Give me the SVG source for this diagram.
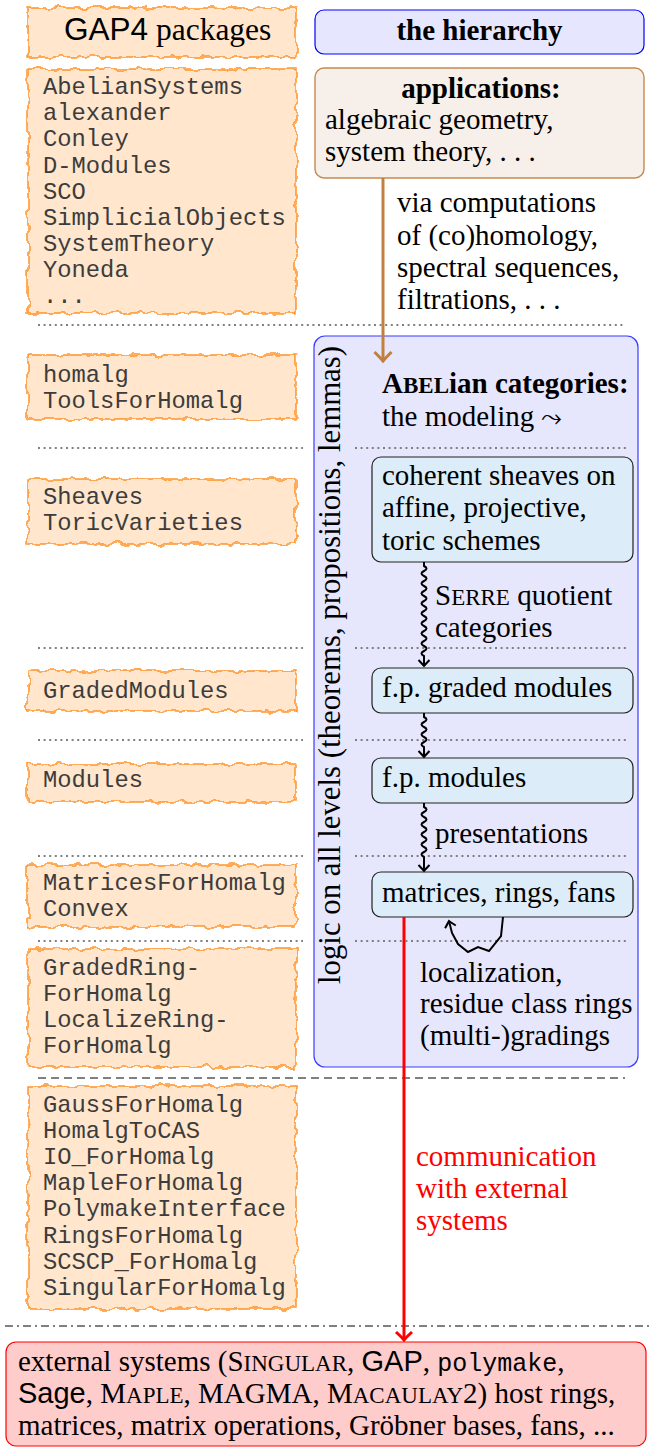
<svg xmlns="http://www.w3.org/2000/svg" width="649" height="1448" viewBox="0 0 649 1448">
<style>
.pkg{fill:#ffe6cc;stroke:#ff8c1a;stroke-width:1.4}
.mono{font-family:"Liberation Mono",monospace;font-size:23.8px;fill:#3c3c3c}
.serif{font-family:"Liberation Serif",serif;font-size:29px;fill:#000}
.bold{font-weight:bold}
.sans{font-family:"Liberation Sans",sans-serif}
.inner{fill:#dcecf8;stroke:#222;stroke-width:1.2}
.dot{stroke:#808080;stroke-width:2;stroke-dasharray:2 3.6;fill:none}
.wave{fill:none;stroke:#000;stroke-width:2}
</style>
<defs>
<filter id="rough" x="-5%" y="-25%" width="110%" height="150%">
<feTurbulence type="fractalNoise" baseFrequency="0.09" numOctaves="2" seed="7" result="n"/>
<feDisplacementMap in="SourceGraphic" in2="n" scale="8" xChannelSelector="R" yChannelSelector="G"/>
</filter>
<marker id="ahK" viewBox="-8 -8 10 16" markerWidth="10" markerHeight="16" refX="0" refY="0" orient="auto" markerUnits="userSpaceOnUse">
<path d="M-6,-5.5 Q-1.5,-1.2 0,0 Q-1.5,1.2 -6,5.5" fill="none" stroke="#000" stroke-width="2"/>
</marker>
<marker id="ahB" viewBox="-12 -12 14 24" markerWidth="14" markerHeight="24" refX="0" refY="0" orient="auto" markerUnits="userSpaceOnUse">
<path d="M-9,-8.5 Q-2.5,-2 0,0 Q-2.5,2 -9,8.5" fill="none" stroke="#c0803f" stroke-width="3"/>
</marker>
<marker id="ahR" viewBox="-12 -12 14 24" markerWidth="14" markerHeight="24" refX="0" refY="0" orient="auto" markerUnits="userSpaceOnUse">
<path d="M-8,-8 Q-2.5,-2 0,0 Q-2.5,2 -8,8" fill="none" stroke="#ff0000" stroke-width="3"/>
</marker>
</defs>

<!-- separators -->
<g id="separators">
<line class="dot" x1="38" y1="325" x2="623" y2="325"/>
<line class="dot" x1="38" y1="448" x2="303" y2="448"/>
<line class="dot" x1="38" y1="648" x2="303" y2="648"/>
<line class="dot" x1="38" y1="740" x2="303" y2="740"/>
<line class="dot" x1="38" y1="856" x2="303" y2="856"/>
<line class="dot" x1="38" y1="941" x2="303" y2="941"/>
<line x1="38" y1="1078" x2="625" y2="1078" stroke="#808080" stroke-width="2" stroke-dasharray="8 5"/>
<line x1="5" y1="1326" x2="649" y2="1326" stroke="#808080" stroke-width="2" stroke-dasharray="8 4 2 4"/>
</g>

<!-- left package nodes -->
<g id="pkg-header">
<rect class="pkg" filter="url(#rough)" x="28" y="8" width="268" height="49"/>
<text x="64" y="40" class="serif" style="font-size:31.5px"><tspan class="sans">GAP4</tspan> packages</text>
</g>
<g id="pkg-general">
<rect class="pkg" filter="url(#rough)" x="28" y="69" width="268" height="244"/>
<text class="mono"><tspan x="43" y="94">AbelianSystems</tspan><tspan x="43" y="120">alexander</tspan><tspan x="43" y="146">Conley</tspan><tspan x="43" y="173">D-Modules</tspan><tspan x="43" y="199">SCO</tspan><tspan x="43" y="225">SimplicialObjects</tspan><tspan x="43" y="251">SystemTheory</tspan><tspan x="43" y="277">Yoneda</tspan><tspan x="43" y="303">...</tspan></text>
</g>
<g id="pkg-homalg">
<rect class="pkg" filter="url(#rough)" x="28" y="355" width="268" height="64"/>
<text class="mono"><tspan x="43" y="382">homalg</tspan><tspan x="43" y="408">ToolsForHomalg</tspan></text>
</g>
<g id="pkg-sheaves">
<rect class="pkg" filter="url(#rough)" x="28" y="479" width="268" height="65"/>
<text class="mono"><tspan x="43" y="504">Sheaves</tspan><tspan x="43" y="530">ToricVarieties</tspan></text>
</g>
<g id="pkg-graded">
<rect class="pkg" filter="url(#rough)" x="28" y="671" width="268" height="40"/>
<text class="mono" x="43" y="698">GradedModules</text>
</g>
<g id="pkg-modules">
<rect class="pkg" filter="url(#rough)" x="28" y="764" width="268" height="38"/>
<text class="mono" x="43" y="787">Modules</text>
</g>
<g id="pkg-matrices">
<rect class="pkg" filter="url(#rough)" x="28" y="865" width="268" height="62"/>
<text class="mono"><tspan x="43" y="890">MatricesForHomalg</tspan><tspan x="43" y="916">Convex</tspan></text>
</g>
<g id="pkg-rings">
<rect class="pkg" filter="url(#rough)" x="28" y="949" width="268" height="118"/>
<text class="mono"><tspan x="43" y="975">GradedRing-</tspan><tspan x="43" y="1001">ForHomalg</tspan><tspan x="43" y="1027">LocalizeRing-</tspan><tspan x="43" y="1053">ForHomalg</tspan></text>
</g>
<g id="pkg-cas">
<rect class="pkg" filter="url(#rough)" x="28" y="1086" width="268" height="223"/>
<text class="mono"><tspan x="43" y="1112">GaussForHomalg</tspan><tspan x="43" y="1138">HomalgToCAS</tspan><tspan x="43" y="1164">IO_ForHomalg</tspan><tspan x="43" y="1190">MapleForHomalg</tspan><tspan x="43" y="1216">PolymakeInterface</tspan><tspan x="43" y="1243">RingsForHomalg</tspan><tspan x="43" y="1269">SCSCP_ForHomalg</tspan><tspan x="43" y="1295">SingularForHomalg</tspan></text>
</g>

<!-- right hierarchy nodes -->
<g id="hierarchy-title">
<rect x="315" y="10" width="329" height="44" rx="9" fill="#e6e6ff" stroke="#0000ff" stroke-width="1.2"/>
<text class="serif bold" x="479.5" y="40" text-anchor="middle">the hierarchy</text>
</g>
<g id="applications">
<rect x="315" y="68" width="329" height="110" rx="9" fill="#f7efea" stroke="#c8894f" stroke-width="1.4"/>
<text class="serif bold" x="481" y="98" text-anchor="middle">applications:</text>
<text class="serif"><tspan x="325" y="129">algebraic geometry,</tspan><tspan x="325" y="161">system theory, . . .</tspan></text>
</g>
<g id="abelian">
<rect x="314" y="336" width="324" height="731" rx="11" fill="#e6e6fc" stroke="#3a3aff" stroke-width="1.2"/>
<text class="serif" style="font-size:30.8px" transform="translate(340,665) rotate(-90)" text-anchor="middle">logic on all levels (theorems, propositions, lemmas)</text>
<text class="serif bold" x="382" y="393">A<tspan style="font-size:23px">BEL</tspan>ian categories:</text>
<text class="serif" x="382" y="426">the modeling <tspan style="font-family:'DejaVu Sans',sans-serif;font-size:26px">⤳</tspan></text>
<line class="dot" x1="355" y1="448" x2="628" y2="448"/>
<line class="dot" x1="355" y1="648" x2="628" y2="648"/>
<line class="dot" x1="355" y1="740" x2="628" y2="740"/>
<line class="dot" x1="355" y1="856" x2="628" y2="856"/>
<line class="dot" x1="355" y1="941" x2="628" y2="941"/>
</g>
<g id="sheaves">
<rect class="inner" x="372" y="457" width="261" height="105" rx="9"/>
<text class="serif"><tspan x="382" y="485">coherent sheaves on</tspan><tspan x="382" y="517">affine, projective,</tspan><tspan x="382" y="550">toric schemes</tspan></text>
</g>
<g id="graded-modules">
<rect class="inner" x="372" y="668" width="261" height="45" rx="9"/>
<text class="serif" x="382" y="697">f.p. graded modules</text>
</g>
<g id="modules">
<rect class="inner" x="372" y="758" width="261" height="45" rx="9"/>
<text class="serif" x="382" y="787">f.p. modules</text>
</g>
<g id="matrices">
<rect class="inner" x="372" y="872" width="261" height="45" rx="9"/>
<text class="serif" x="382" y="902">matrices, rings, fans</text>
</g>
<g id="external">
<rect x="6" y="1342" width="640" height="104" rx="10" fill="#ffcccc" stroke="#ff0000" stroke-width="1.2"/>
<text class="serif" x="18" y="1371">external systems (S<tspan style="font-size:23px">INGULAR</tspan>, <tspan class="sans">GAP</tspan>, <tspan style="font-family:'Liberation Mono',monospace;font-size:25px">polymake</tspan>,</text>
<text class="serif" x="18" y="1403"><tspan class="sans">Sage</tspan>, M<tspan style="font-size:23px">APLE</tspan>, MAGMA, M<tspan style="font-size:23px">ACAULAY</tspan>2) host rings,</text>
<text class="serif" x="18" y="1435">matrices, matrix operations, Gröbner bases, fans, ...</text>
</g>

<!-- connectors -->
<g id="connectors">
<line x1="383" y1="178" x2="383" y2="361" stroke="#c0803f" stroke-width="3" marker-end="url(#ahB)"/>
<text class="serif"><tspan x="397" y="212">via computations</tspan><tspan x="397" y="245">of (co)homology,</tspan><tspan x="397" y="277">spectral sequences,</tspan><tspan x="397" y="309">filtrations, . . .</tspan></text>
<path class="wave" d="M424,562 L424,566 q5,2.5 0,5 q-5,2.5 0,5 q5,2.5 0,5 q-5,2.5 0,5 q5,2.5 0,5 q-5,2.5 0,5 q5,2.5 0,5 q-5,2.5 0,5 q5,2.5 0,5 q-5,2.5 0,5 q5,2.5 0,5 q-5,2.5 0,5 q5,2.5 0,5 q-5,2.5 0,5 q5,2.5 0,5 q-5,2.5 0,5 q5,2.5 0,5 q-5,2.5 0,5 L424,666" marker-end="url(#ahK)"/>
<text class="serif" x="435" y="605">S<tspan style="font-size:23px">ERRE</tspan> quotient</text>
<text class="serif" x="435" y="637">categories</text>
<path class="wave" d="M424,713 L424,717 q5,2.5 0,5 q-5,2.5 0,5 q5,2.5 0,5 q-5,2.5 0,5 q5,2.5 0,5 q-5,2.5 0,5 L424,757" marker-end="url(#ahK)"/>
<path class="wave" d="M424,803 L424,807 q5,2.5 0,5 q-5,2.5 0,5 q5,2.5 0,5 q-5,2.5 0,5 q5,2.5 0,5 q-5,2.5 0,5 q5,2.5 0,5 q-5,2.5 0,5 q5,2.5 0,5 q-5,2.5 0,5 L424,871" marker-end="url(#ahK)"/>
<text class="serif" x="435" y="843">presentations</text>
<path class="wave" d="M503,917 L501,936 L489,951 L478,947 L468,952 L458,944 L452,933 L449,921" marker-end="url(#ahK)"/>
<text class="serif"><tspan x="420" y="982">localization,</tspan><tspan x="420" y="1013">residue class rings</tspan><tspan x="420" y="1045">(multi-)gradings</tspan></text>
<line x1="404" y1="917" x2="404" y2="1340" stroke="#ff0000" stroke-width="3" marker-end="url(#ahR)"/>
<text class="serif" style="fill:#ff0000"><tspan x="416" y="1166">communication</tspan><tspan x="416" y="1198">with external</tspan><tspan x="416" y="1230">systems</tspan></text>
</g>
</svg>
